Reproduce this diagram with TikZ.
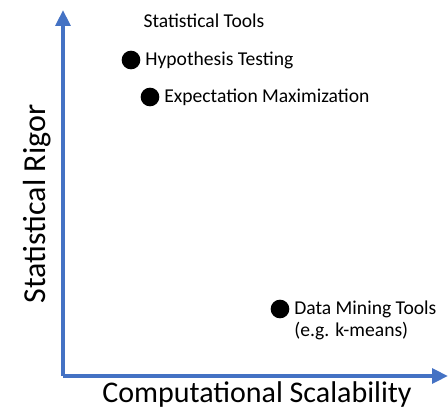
\documentclass[tikz,border=0pt]{standalone}
\usepackage{fontspec}
\setmainfont{Carlito}
\usetikzlibrary{arrows.meta,positioning}

\definecolor{axisblue}{RGB}{68,114,196}

\tikzset{every picture/.style={line width=0.75pt}}
\tikzset{
  axis/.style={draw=axisblue,line width=3pt,-{Triangle[length=12pt,width=11pt]}},
  dot/.style={circle,fill=black,inner sep=0pt,minimum size=14pt},
  tool/.style={font=\fontsize{14.7}{17}\selectfont,inner sep=0pt,anchor=west},
  axislabel/.style={font=\fontsize{22.5}{26}\selectfont,inner sep=0pt}
}

\begin{document}
\begin{tikzpicture}[x=0.75pt,y=0.75pt,yscale=-1,xscale=1]
\useasboundingbox (0,0) rectangle (448,409);

%Axes
\coordinate (origin) at (63,376);
\coordinate (ytop) at (63,10);
\coordinate (xend) at (448,376);
\draw[axis] (origin) -- (ytop) ;
\draw[axis] (origin) -- (xend) ;

% Text Node
\node[axislabel] (xlabel) at (257,394) {Computational Scalability};
% Text Node
\node[axislabel,font=\fontsize{24}{27}\selectfont,rotate=90] (ylabel) at (37,204) {Statistical Rigor};

% Text Node
\node[tool] (tools) at (143,21) {Statistical Tools};

%Dots
\node[dot] (hyp) at (131,60) {};
\node[dot] (em) at (150,97) {};
\node[dot] (dm) at (280,309) {};

% Text Node
\node[tool,right=3pt of hyp] (hyplabel) {Hypothesis Testing};
% Text Node
\node[tool,right=3pt of em] (emlabel) {Expectation Maximization};
% Text Node
\node[tool,right=3pt of dm] (dmlabel) {Data Mining Tools};
% Text Node
\node[tool,below=2.5pt of dmlabel.south west,anchor=north west] (dmnote) {(e.g. k-means)};

\end{tikzpicture}
\end{document}
